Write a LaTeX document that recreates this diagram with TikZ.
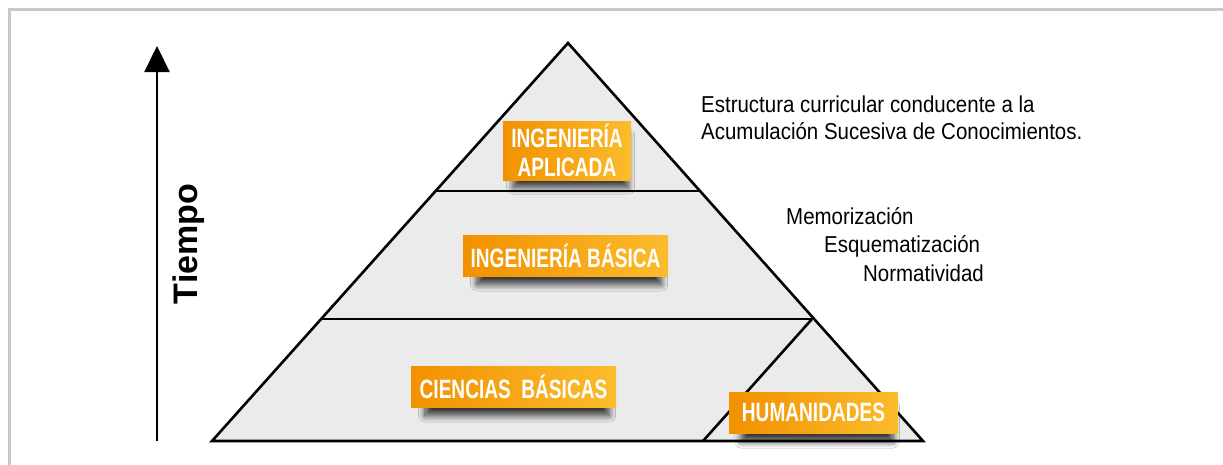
\documentclass[tikz,border=0pt]{standalone}
\usepackage{fontspec}
\setmainfont{Liberation Sans}[FakeStretch=0.89]
\newfontfamily\lblfont{Liberation Sans}[FakeStretch=0.72]
\newfontfamily\tfont{Liberation Sans}
\usetikzlibrary{arrows.meta,shadows.blur}
\definecolor{pyrfill}{HTML}{EBEBEB}
\definecolor{orL}{HTML}{F29100}
\definecolor{orR}{HTML}{FBBC2C}
\definecolor{framegray}{HTML}{C8C8C8}
\begin{document}
\begin{tikzpicture}[x=1pt,y=-1pt,
  edge/.style={line width=2.6pt, black},
  lbl/.style={left color=orL, right color=orR, text=white, inner sep=0pt, align=center,
    font=\lblfont\bfseries\fontsize{26.5}{29}\selectfont,
    blur shadow={shadow xshift=4pt, shadow yshift=-12pt, shadow opacity=75, shadow blur radius=7pt, shadow blur steps=12, shadow scale=0.9}},
  note/.style={font=\fontsize{23}{28}\selectfont, inner sep=0pt, anchor=base west}
]
\useasboundingbox (0,0) rectangle (1223,464);
\fill[white] (0,0) rectangle (1223,464);
% frame
\draw[framegray, line width=2.5pt] (9.5,470) -- (9.5,9.5) -- (1230,9.5);

% pyramid
\coordinate (apex) at (568,43);
\coordinate (bl) at (212,441);
\coordinate (br) at (923,441);
\coordinate (l1a) at (436,191);
\coordinate (l1b) at (700,191);
\coordinate (l2a) at (321,319);
\coordinate (l2b) at (812,319);
\coordinate (hbl) at (703,441);
\fill[pyrfill] (apex) -- (br) -- (bl) -- cycle;
\draw[edge, line join=miter] (bl) -- (apex) -- (br) -- cycle;
\draw[edge] (l1a) -- (l1b);
\draw[edge] (l2a) -- (l2b);
\draw[edge] (l2b) -- (hbl);

% time arrow
\coordinate (tbot) at (157,441);
\coordinate (ttop) at (157,46);
\draw[line width=2.2pt, -{Triangle[length=26pt,width=25pt]}] (tbot) -- (ttop);
\node[rotate=90, anchor=base, inner sep=0pt, font=\tfont\bfseries\fontsize{34}{34}\selectfont] (tiempo) at (197,244) {Tiempo};

% labels
\node[lbl, minimum width=128pt, minimum height=59pt] (ia) at (567,150.5) {INGENIERÍA\\APLICADA};
\node[lbl, minimum width=205pt, minimum height=41pt] (ib) at (565.5,255.5) {INGENIERÍA BÁSICA};
\node[lbl, minimum width=205pt, minimum height=41pt] (cb) at (513.5,386.5) {CIENCIAS\ \ BÁSICAS};
\node[lbl, minimum width=169pt, minimum height=41pt] (hu) at (813.5,412.5) {HUMANIDADES};

% notes
\node[note] (n1) at (701,112) {Estructura curricular conducente a la};
\node[note] (n2) at (701,139) {Acumulación Sucesiva de Conocimientos.};
\node[note] (m1) at (786,224) {Memorización};
\node[note] (m2) at (824,252) {Esquematización};
\node[note] (m3) at (863,281) {Normatividad};
\end{tikzpicture}
\end{document}
